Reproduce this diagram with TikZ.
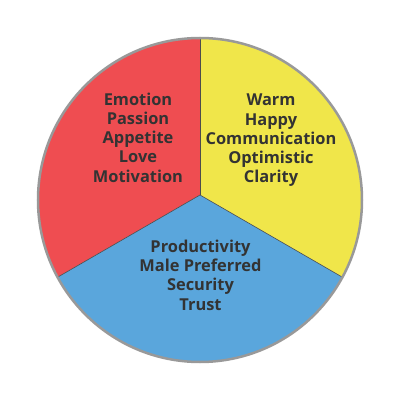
\documentclass[tikz,border=0pt]{standalone}
\usepackage{fontspec}
\setmainfont{Open Sans}
\definecolor{pred}{HTML}{EF4D51}
\definecolor{pyellow}{HTML}{F0E64A}
\definecolor{pblue}{HTML}{5AA6DC}
\definecolor{rimgrey}{HTML}{999999}
\definecolor{txt}{HTML}{333333}
\tikzset{
  label/.style={align=center, inner sep=0pt, anchor=north, text=txt,
    font=\fontsize{16.4}{19.25}\selectfont\bfseries},
  divider/.style={draw=black!70, line width=0.6pt},
  rim/.style={draw=rimgrey, line width=2.5pt}
}
\begin{document}
\begin{tikzpicture}[x=1pt,y=1pt]
\useasboundingbox (0,0) rectangle (400,400);
\coordinate (O) at (200,200);
\coordinate (M) at (200,205);
\coordinate (T) at (200,362);
\coordinate (L) at (57.6,122.8);
\coordinate (R) at (342.4,122.8);
\fill[pred] (M) -- (T) arc[start angle=90, end angle=208.46, radius=162] -- cycle;
\fill[pyellow] (M) -- (T) arc[start angle=90, end angle=-28.46, radius=162] -- cycle;
\fill[pblue] (M) -- (L) arc[start angle=208.46, end angle=331.54, radius=162] -- cycle;
\draw[divider] (M) -- (T);
\draw[divider] (M) -- (L);
\draw[divider] (M) -- (R);
\draw[rim] (O) circle[radius=162];
\node[label] (red) at (138,307.5) {Emotion\\Passion\\Appetite\\Love\\Motivation};
\node[label] (yellow) at (271,306) {Warm\\Happy\\Communication\\Optimistic\\Clarity};
\node[label] (blue) at (200.5,160.2) {Productivity\\Male Preferred\\Security\\Trust};
\end{tikzpicture}
\end{document}
